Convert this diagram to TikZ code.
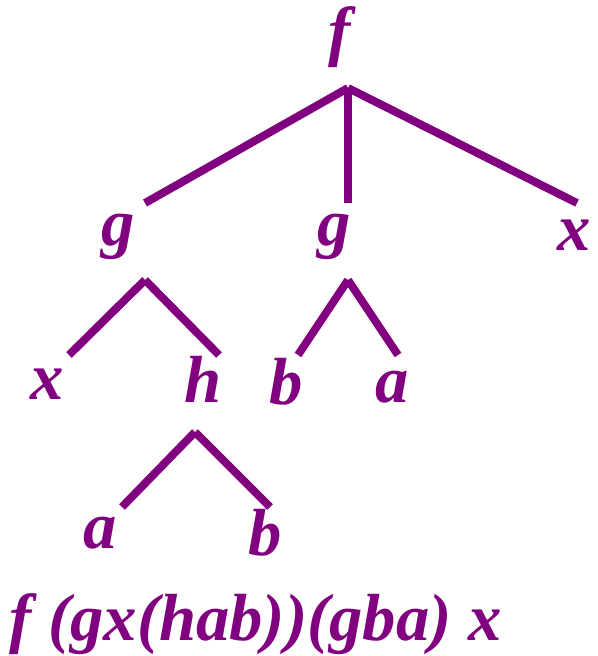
\documentclass[tikz,border=0pt]{standalone}
\usepackage{fontspec}
\setmainfont{Liberation Serif}
\usepackage{xcolor}
\definecolor{TreePurple}{HTML}{800080}

\tikzset{
  sym/.style={anchor=base,inner sep=0pt,text=TreePurple,font=\fontsize{50}{54}\selectfont\bfseries\itshape},
  edge/.style={draw=TreePurple,line width=6pt}
}

\begin{document}
\begin{tikzpicture}[x=0.75pt,y=-0.75pt]
\path[use as bounding box] (0,0) rectangle (597,656);
% letters
\node[sym] (f)  at (340,54)  {f};
\node[sym] (g1) at (118,245) {g};
\node[sym] (g2) at (334,245) {g};
\node[sym] (x1) at (574,250) {x};
\node[sym] (x2) at (47,399)  {x};
\node[sym] (h)  at (203,402) {h};
\node[sym] (b1) at (286,404) {b};
\node[sym] (a1) at (392,402) {a};
\node[sym] (a2) at (100,548) {a};
\node[sym] (b2) at (265,555) {b};
\node[sym,anchor=base west] (term) at (9,640) {f (gx(hab))(gba) x};
% joints
\coordinate (fj)  at (348,88);
\coordinate (g1t) at (145,203);
\coordinate (g2t) at (348,203);
\coordinate (x1t) at (577,203);
\coordinate (g1j) at (145,280);
\coordinate (x2t) at (69,355);
\coordinate (ht)  at (219,355);
\coordinate (g2j) at (348,280);
\coordinate (b1t) at (298,355);
\coordinate (a1t) at (398,355);
\coordinate (hj)  at (195,432);
\coordinate (a2t) at (122,507);
\coordinate (b2t) at (270,507);
% edges
\draw[edge] (fj) -- (g1t);
\draw[edge] (fj) -- (g2t);
\draw[edge] (fj) -- (x1t);
\draw[edge] (g1j) -- (x2t);
\draw[edge] (g1j) -- (ht);
\draw[edge] (g2j) -- (b1t);
\draw[edge] (g2j) -- (a1t);
\draw[edge] (hj) -- (a2t);
\draw[edge] (hj) -- (b2t);
\end{tikzpicture}
\end{document}
